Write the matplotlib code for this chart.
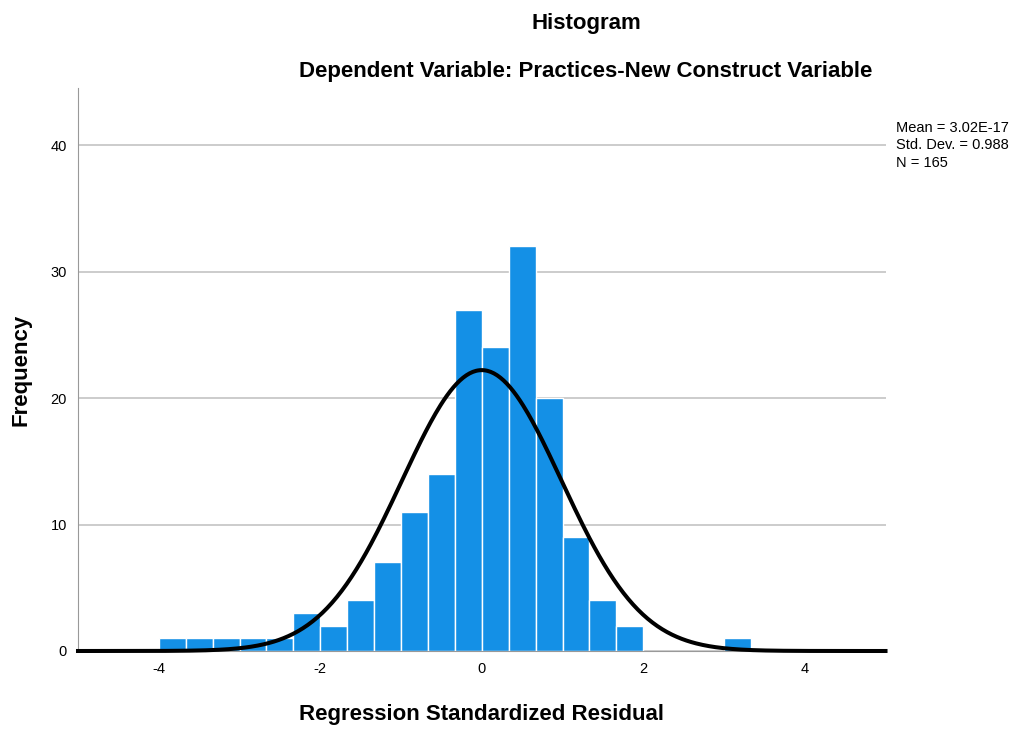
import matplotlib.pyplot as plt
import numpy as np

plt.rcParams['font.family'] = ['Liberation Sans', 'DejaVu Sans']
plt.rcParams['axes.unicode_minus'] = False

# histogram bins (left edges) and counts
bin_width = 1.0 / 3.0
bin_lefts = [-4.0, -11/3, -10/3, -3.0, -8/3, -7/3, -2.0, -5/3, -4/3, -1.0,
             -2/3, -1/3, 0.0, 1/3, 2/3, 1.0, 4/3, 5/3, 3.0]
counts = [1, 1, 1, 1, 1, 3, 2, 4, 7, 11, 14, 27, 24, 32, 20, 9, 4, 2, 1]

# summary stats shown in the legend
mean = 3.02e-17
std = 0.988
n = 165

xticks = [-4, -2, 0, 2, 4]
yticks = [0, 10, 20, 30, 40]

fig = plt.figure(figsize=(10.17, 7.29), dpi=100)
ax = fig.add_axes([0.0767, 0.107, 0.794, 0.772])

ax.set_axisbelow(True)
ax.grid(axis='y', color='#c4c4c4', linewidth=1.2)
ax.bar(bin_lefts, counts, width=bin_width, align='edge',
       color='#1490e6', edgecolor='white', linewidth=1.0, zorder=2)

# fitted normal curve scaled to counts
xs = np.linspace(-5, 5, 500)
ys = n * bin_width * np.exp(-0.5 * ((xs - mean) / std) ** 2) / (std * np.sqrt(2 * np.pi))
ax.plot(xs, ys, color='black', linewidth=2.9, zorder=3, clip_on=False)

ax.set_xlim(-5, 5)
ax.set_ylim(0, 44.5)
ax.set_xticks(xticks)
ax.set_yticks(yticks)
ax.tick_params(length=0, labelsize=10.5, pad=8)
for s in ['top', 'right']:
    ax.spines[s].set_visible(False)
ax.spines['left'].set_color('#999999')
ax.spines['bottom'].set_color('#999999')

ax.set_xlabel('Regression Standardized Residual', fontsize=16, fontweight='bold', labelpad=20)
ax.set_ylabel('Frequency', fontsize=16, fontweight='bold', labelpad=14)

fig.text(586 / 1017, 1 - 23 / 729, 'Histogram', ha='center', va='center',
         fontsize=16, fontweight='bold')
fig.text(586 / 1017, 1 - 71 / 729, 'Dependent Variable: Practices-New Construct Variable',
         ha='center', va='center', fontsize=16, fontweight='bold')

fig.text(896 / 1017, 1 - 121 / 729,
         'Mean = 3.02E-17\nStd. Dev. = 0.988\nN = 165',
         ha='left', va='top', fontsize=10.5, linespacing=1.3)

fig.savefig('out.png', dpi=100)
